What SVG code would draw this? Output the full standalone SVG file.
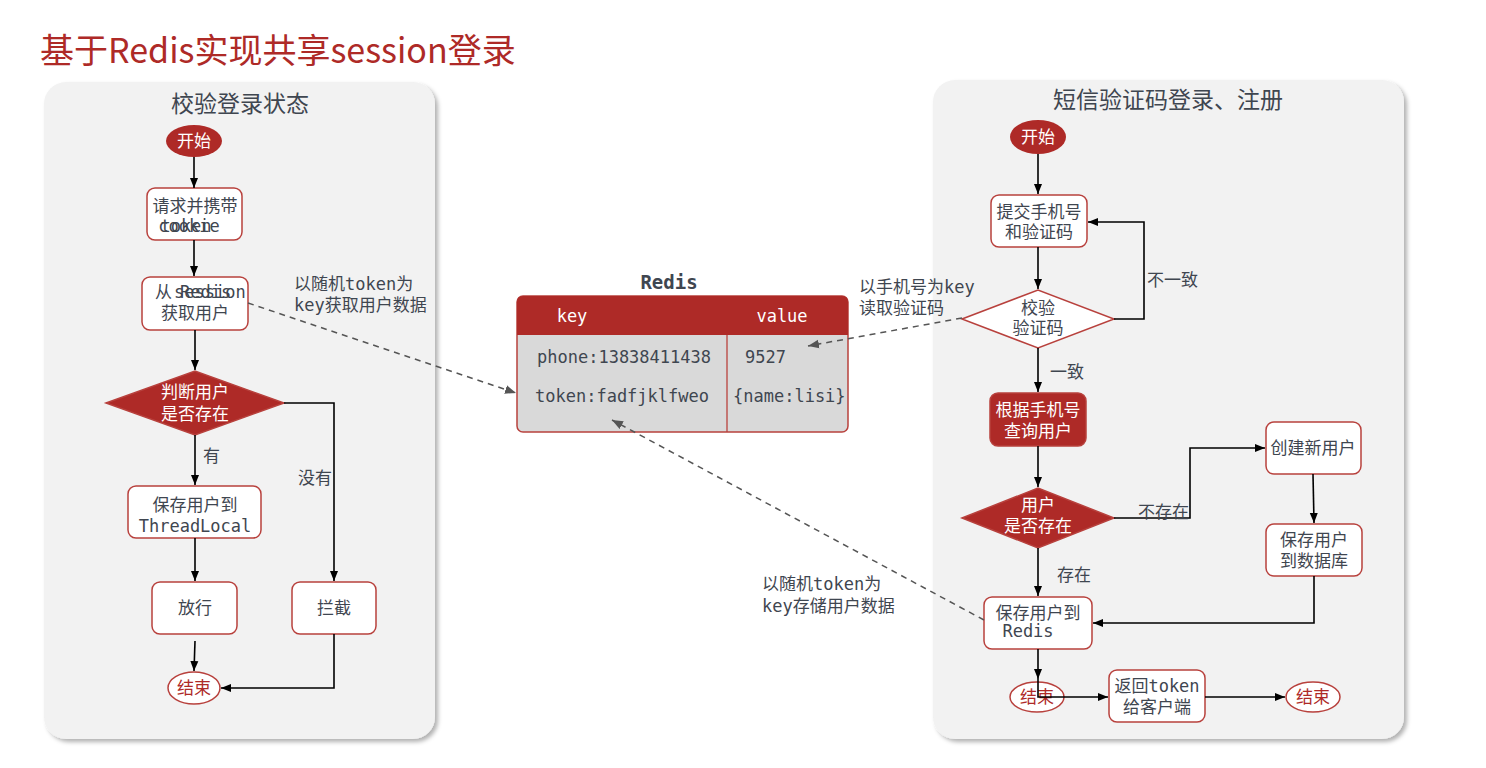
<svg xmlns="http://www.w3.org/2000/svg" width="1486" height="768" viewBox="0 0 1486 768">
<style>
.t{font-family:"DejaVu Sans Mono","Noto Sans CJK SC",monospace;font-size:17px;fill:#3f4650}
.c{text-anchor:middle}
.w{fill:#ffffff}
.r{fill:#ae2a27}
.box{fill:#ffffff;stroke:#b8413d;stroke-width:1.5}
.rbox{fill:#ae2a27;stroke:#b8413d;stroke-width:1.5}
.ln{fill:none;stroke:#000;stroke-width:1.6}
.dl{fill:none;stroke:#555;stroke-width:1.5;stroke-dasharray:6 5}
.panel{fill:#f2f2f2}
</style>
<defs>
<marker id="a" viewBox="0 0 10 10" refX="10" refY="5" markerWidth="10" markerHeight="10" markerUnits="userSpaceOnUse" orient="auto"><path d="M0,1 L10,5 L0,9 z" fill="#000"/></marker>
<marker id="g" viewBox="0 0 10 10" refX="10" refY="5" markerWidth="11" markerHeight="11" markerUnits="userSpaceOnUse" orient="auto"><path d="M0,1 L10,5 L0,9 z" fill="#555"/></marker>
<filter id="sh" x="-5%" y="-5%" width="110%" height="110%"><feDropShadow dx="3" dy="3" stdDeviation="2" flood-color="#000" flood-opacity="0.3"/></filter>
</defs>
<rect width="1486" height="768" fill="#fff"/>
<text x="40" y="63" font-family="'Noto Sans CJK SC',sans-serif" font-size="34" fill="#ae2a27">基于Redis实现共享session登录</text>
<g id="panel-left"><rect x="44" y="82" width="391" height="657" rx="22" class="panel" filter="url(#sh)"/><text x="240" y="112" font-family="'Noto Sans CJK SC',sans-serif" font-size="23" fill="#3f4650" class="c">校验登录状态</text></g>
<g id="panel-right"><rect x="933" y="80" width="471" height="659" rx="22" class="panel" filter="url(#sh)"/><text x="1168" y="108" font-family="'Noto Sans CJK SC',sans-serif" font-size="23" fill="#3f4650" class="c">短信验证码登录、注册</text></g>

<g id="l-start"><ellipse cx="194" cy="141" rx="28" ry="16" class="r"/><text x="194" y="147" class="t c w">开始</text></g>
<g id="l-request"><rect x="147" y="188" width="95" height="52" rx="8" class="box"/><text x="195" y="212" class="t c">请求并携带</text><text x="186" y="232" class="t c">token</text><text x="189" y="232" class="t c">cookie</text></g>
<g id="l-get"><rect x="142" y="277" width="106" height="53" rx="8" class="box"/><text x="155" y="298" class="t">从</text><text x="174" y="298" class="t">session</text><text x="180" y="298" class="t">Redis</text><text x="195" y="319" class="t c">获取用户</text></g>
<g id="l-judge"><polygon points="106,403 195,371 284,403 195,435" class="rbox"/><text x="195" y="398" class="t c w">判断用户</text><text x="195" y="420" class="t c w">是否存在</text></g>
<g id="l-save"><rect x="128" y="486" width="133" height="52" rx="8" class="box"/><text x="195" y="511" class="t c">保存用户到</text><text x="195" y="532" class="t c">ThreadLocal</text></g>
<g id="l-pass"><rect x="152" y="582" width="85" height="52" rx="8" class="box"/><text x="195" y="614" class="t c">放行</text></g>
<g id="l-block"><rect x="292" y="582" width="84" height="52" rx="8" class="box"/><text x="334" y="614" class="t c">拦截</text></g>
<g id="l-end"><ellipse cx="194" cy="688" rx="26" ry="16" class="box"/><text x="194" y="694" class="t c r">结束</text></g>

<g id="redis">
<text x="669" y="289" font-family="'DejaVu Sans Mono',monospace" font-size="19" font-weight="bold" fill="#3f4650" class="c">Redis</text>
<rect x="517" y="296" width="331" height="136" rx="6" fill="#d9d9d9" stroke="#b8413d" stroke-width="1.5"/>
<path d="M517,335 V302 Q517,296 523,296 H842 Q848,296 848,302 V335 Z" fill="#ae2a27"/>
<line x1="727" y1="335" x2="727" y2="432" stroke="#b8413d" stroke-width="1.3"/>
<text x="572" y="322" class="t c w">key</text>
<text x="782" y="322" class="t c w">value</text>
<text x="537" y="363" class="t">phone:13838411438</text>
<text x="745" y="363" class="t">9527</text>
<text x="535" y="402" class="t">token:fadfjklfweo</text>
<text x="733" y="402" class="t">{name:lisi}</text>
</g>

<g id="r-start"><ellipse cx="1038" cy="137" rx="28" ry="17" class="r"/><text x="1038" y="143" class="t c w">开始</text></g>
<g id="r-submit"><rect x="991" y="195" width="96" height="52" rx="8" class="box"/><text x="1039" y="218" class="t c">提交手机号</text><text x="1039" y="238" class="t c">和验证码</text></g>
<g id="r-verify"><polygon points="962,319 1038,290 1114,319 1038,348" class="box"/><text x="1038" y="314" class="t c">校验</text><text x="1038" y="334" class="t c">验证码</text></g>
<g id="r-query"><rect x="990" y="393" width="96" height="53" rx="8" class="rbox"/><text x="1038" y="416" class="t c w">根据手机号</text><text x="1038" y="437" class="t c w">查询用户</text></g>
<g id="r-exists"><polygon points="962,518 1038,488 1114,518 1038,548" class="rbox"/><text x="1038" y="511" class="t c w">用户</text><text x="1038" y="532" class="t c w">是否存在</text></g>
<g id="r-create"><rect x="1266" y="422" width="95" height="52" rx="8" class="box"/><text x="1313" y="454" class="t c">创建新用户</text></g>
<g id="r-savedb"><rect x="1266" y="524" width="96" height="52" rx="8" class="box"/><text x="1314" y="546" class="t c">保存用户</text><text x="1314" y="567" class="t c">到数据库</text></g>
<g id="r-saveredis"><rect x="984" y="597" width="108" height="52" rx="8" class="box"/><text x="1038" y="619" class="t c">保存用户到</text><text x="1028" y="637" class="t c">Redis</text></g>
<g id="r-end1"><ellipse cx="1037" cy="697" rx="27" ry="15" class="box"/><text x="1037" y="703" class="t c r">结束</text></g>
<g id="r-return"><rect x="1109" y="670" width="96" height="52" rx="8" class="box"/><text x="1157" y="692" class="t c">返回token</text><text x="1157" y="713" class="t c">给客户端</text></g>
<g id="r-end2"><ellipse cx="1313" cy="697" rx="27" ry="15" class="box"/><text x="1313" y="703" class="t c r">结束</text></g>

<g id="connectors">
<line x1="194" y1="157" x2="194" y2="188" class="ln" marker-end="url(#a)"/>
<line x1="194" y1="240" x2="194" y2="276" class="ln" marker-end="url(#a)"/>
<line x1="195" y1="330" x2="195" y2="370" class="ln" marker-end="url(#a)"/>
<line x1="195" y1="435" x2="195" y2="485" class="ln" marker-end="url(#a)"/>
<path d="M284,403 H334 V581" class="ln" marker-end="url(#a)"/>
<line x1="195" y1="538" x2="195" y2="581" class="ln" marker-end="url(#a)"/>
<line x1="195" y1="641" x2="194" y2="671" class="ln" marker-end="url(#a)"/>
<path d="M334,634 V688 H221" class="ln" marker-end="url(#a)"/>
<line x1="1038" y1="154" x2="1038" y2="194" class="ln" marker-end="url(#a)"/>
<line x1="1038" y1="247" x2="1038" y2="289" class="ln" marker-end="url(#a)"/>
<path d="M1114,319 H1144 V222 H1088" class="ln" marker-end="url(#a)"/>
<line x1="1038" y1="348" x2="1038" y2="392" class="ln" marker-end="url(#a)"/>
<line x1="1038" y1="446" x2="1038" y2="487" class="ln" marker-end="url(#a)"/>
<path d="M1114,518 H1190 V448 H1265" class="ln" marker-end="url(#a)"/>
<line x1="1313" y1="474" x2="1314" y2="523" class="ln" marker-end="url(#a)"/>
<path d="M1314,576 V623 H1093" class="ln" marker-end="url(#a)"/>
<line x1="1038" y1="548" x2="1038" y2="596" class="ln" marker-end="url(#a)"/>
<line x1="1038" y1="649" x2="1038" y2="679" class="ln" marker-end="url(#a)"/>
<path d="M1038,679 V697 H1108" class="ln" marker-end="url(#a)"/>
<line x1="1205" y1="697" x2="1285" y2="697" class="ln" marker-end="url(#a)"/>
<line x1="248" y1="303" x2="516" y2="393" class="dl" marker-end="url(#g)"/>
<line x1="962" y1="318" x2="808" y2="346" class="dl" marker-end="url(#g)"/>
<line x1="984" y1="620" x2="612" y2="420" class="dl" marker-end="url(#g)"/>
<text x="203" y="462" class="t">有</text>
<text x="298" y="484" class="t">没有</text>
<text x="1147" y="286" class="t">不一致</text>
<text x="1050" y="378" class="t">一致</text>
<text x="1138" y="518" class="t">不存在</text>
<text x="1057" y="581" class="t">存在</text>
<text x="294" y="290" class="t">以随机token为</text>
<text x="294" y="311" class="t">key获取用户数据</text>
<text x="859" y="293" class="t">以手机号为key</text>
<text x="859" y="314" class="t">读取验证码</text>
<text x="762" y="590" class="t">以随机token为</text>
<text x="762" y="612" class="t">key存储用户数据</text>
</g>
</svg>
